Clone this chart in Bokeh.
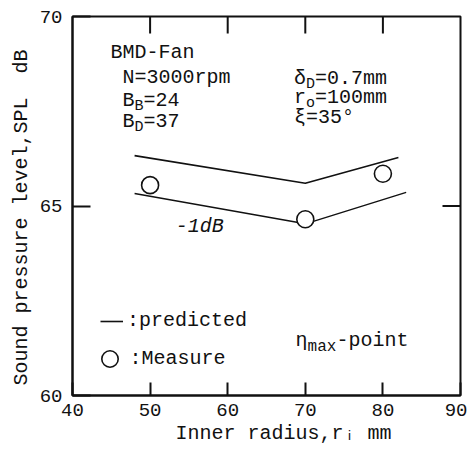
import math
from bokeh.plotting import figure
from bokeh.models import Range1d, FixedTicker, Label, Legend, LegendItem, Title
from bokeh.embed import file_html
from bokeh.resources import INLINE

FONT = "Liberation Mono"
INK = "#111111"

# ---- data ----
x_ticks = [40, 50, 60, 70, 80, 90]
y_ticks = [60, 65, 70]
top_ticks_x = [50, 60, 70, 80]
top_ticks_y = [70, 70, 70, 70]
right_ticks_x = [90]
right_ticks_y = [65]

predicted_r = [48, 70, 82]
predicted_spl = [66.33, 65.6, 66.28]
minus1db_r = [48, 70, 83]
minus1db_spl = [65.33, 64.53, 65.36]
measured_r = [50, 70, 80]
measured_spl = [65.55, 64.65, 65.85]

p = figure(width=467, height=450,
           x_range=Range1d(40, 90), y_range=Range1d(60, 70),
           output_backend="svg", toolbar_location=None,
           min_border_left=72, min_border_right=7,
           min_border_top=16, min_border_bottom=55)
p.grid.visible = False
p.background_fill_color = "white"
p.border_fill_color = "white"
p.outline_line_color = INK
p.outline_line_width = 2

# main axes
xa = p.xaxis[0]
xa.ticker = FixedTicker(ticks=x_ticks)
xa.major_tick_in = 13
xa.major_tick_out = 0
xa.major_label_standoff = 8
ya = p.yaxis[0]
ya.ticker = FixedTicker(ticks=y_ticks)
ya.major_tick_in = 18
ya.major_tick_out = 0
ya.major_label_standoff = 10
for ax in (xa, ya):
    ax.axis_line_width = 2
    ax.axis_line_color = INK
    ax.major_tick_line_width = 2
    ax.major_tick_line_color = INK
    ax.minor_tick_line_color = None
    ax.major_label_text_font = FONT
    ax.major_label_text_font_size = "19px"
    ax.major_label_text_color = INK

# inward ticks on the top and right edges (half of each dash is clipped by the frame)
p.scatter(top_ticks_x, top_ticks_y, marker="dash", size=34, angle=math.pi / 2,
          line_color=INK, line_width=2)
p.scatter(right_ticks_x, right_ticks_y, marker="dash", size=36,
          line_color=INK, line_width=2)

# data
r_pred = p.line(predicted_r, predicted_spl, line_color=INK, line_width=1.6)
p.line(minus1db_r, minus1db_spl, line_color=INK, line_width=1.4)
r_meas = p.scatter(measured_r, measured_spl, marker="circle", size=17,
                   fill_color="white", line_color=INK, line_width=1.6)


def rich(x, y, parts, size=20, style="normal", sub_scale=0.75):
    off = 0
    for txt, kind in parts:
        if kind == "sub":
            fs, dy = size * sub_scale, -6
        else:
            fs, dy = size, 0
        p.add_layout(Label(x=x, y=y, x_offset=off, y_offset=dy, text=txt,
                           text_font=FONT, text_font_size=f"{fs}px",
                           text_font_style=style, text_color=INK,
                           text_align="left", text_baseline="middle"))
        off += len(txt) * 0.6 * fs


# annotation block
rich(44.90, 69.05, [("BMD-Fan", "n")])
rich(46.44, 68.39, [("N=3000rpm", "n")])
rich(46.44, 67.78, [("B", "n"), ("B", "sub"), ("=24", "n")])
rich(46.44, 67.23, [("B", "n"), ("D", "sub"), ("=37", "n")])
rich(68.55, 68.36, [("δ", "n"), ("D", "sub"), ("=0.7mm", "n")])
rich(68.55, 67.86, [("r", "n"), ("o", "sub"), ("=100mm", "n")])
rich(68.55, 67.34, [("ξ=35°", "n")])
rich(53.30, 64.46, [("-1dB", "n")], style="italic")
rich(68.75, 61.45, [("η", "n"), ("max", "sub"), ("-point", "n")], sub_scale=0.8)

# axis titles
p.add_layout(Title(text="Inner radius,rᵢ mm", align="left", offset=103,
                   standoff=3, text_font=FONT, text_font_size="20px",
                   text_font_style="normal", text_color=INK), "below")
p.add_layout(Title(text="Sound pressure level,SPL \u00a0dB", align="left", offset=10,
                   standoff=8, text_font=FONT, text_font_size="20px",
                   text_font_style="normal", text_color=INK), "left")

# legends
common = dict(padding=0, margin=0, spacing=0, border_line_alpha=0,
              background_fill_alpha=0, label_text_font=FONT,
              label_text_font_size="20px", label_text_color=INK,
              label_text_baseline="middle")
leg1 = Legend(items=[LegendItem(label=":predicted", renderers=[r_pred])],
              location=(28, 63), glyph_width=23, glyph_height=20,
              label_standoff=4, **common)
leg2 = Legend(items=[LegendItem(label=":Measure", renderers=[r_meas])],
              location=(16.5, 16), glyph_width=41, glyph_height=41,
              label_standoff=0, **common)
p.add_layout(leg1)
p.add_layout(leg2)

open("out.html", "w").write(file_html(p, INLINE))
